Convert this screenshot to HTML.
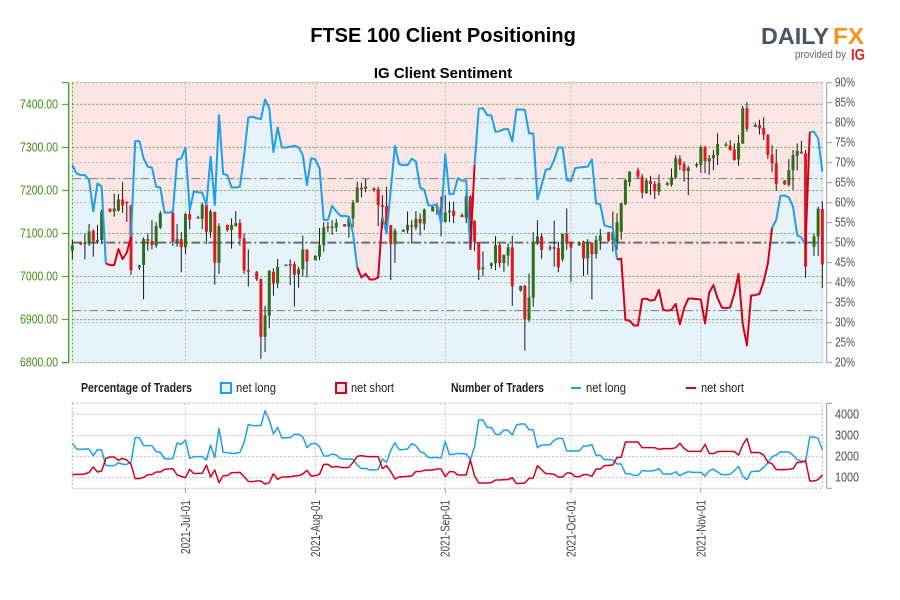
<!DOCTYPE html>
<html lang="en">
<head>
<meta charset="utf-8">
<title>FTSE 100 Client Positioning</title>
<style>
html,body{margin:0;padding:0;background:#fff;}
svg{display:block;font-family:"Liberation Sans",sans-serif;}
</style>
</head>
<body>
<svg id="chart" xmlns="http://www.w3.org/2000/svg" width="900" height="600" viewBox="0 0 900 600">
  <rect width="900" height="600" fill="#ffffff"/>
  <text x="443" y="42" text-anchor="middle" font-size="20" font-weight="700" fill="#000">FTSE 100 Client Positioning</text>
  <text x="443" y="78" text-anchor="middle" font-size="15" font-weight="700" fill="#000">IG Client Sentiment</text>
  <g>
    <text x="761" y="44" font-size="23" font-weight="700" fill="#4b5563" textLength="68" lengthAdjust="spacingAndGlyphs">DAILY</text>
    <text x="833" y="44" font-size="23" font-weight="700" fill="#f7941d" textLength="31" lengthAdjust="spacingAndGlyphs">FX</text>
    <text x="795" y="58" font-size="11" fill="#666" textLength="51" lengthAdjust="spacingAndGlyphs">provided by</text>
    <text x="851" y="60" font-size="16" font-weight="700" fill="#e2231a" textLength="14" lengthAdjust="spacingAndGlyphs">IG</text>
  </g>
  <g id="main-panel"></g>
  <g id="lower-panel"></g>
  <g font-size="13" fill="#222">
    <text x="81" y="392" font-weight="700" textLength="111" lengthAdjust="spacingAndGlyphs">Percentage of Traders</text>
    <rect x="221" y="383" width="10" height="10" fill="#e6f3fb" stroke="#1e9fe8" stroke-width="2"/>
    <text x="236" y="392" textLength="40" lengthAdjust="spacingAndGlyphs">net long</text>
    <rect x="336" y="383" width="10" height="10" fill="#fbe5e5" stroke="#d0021b" stroke-width="2"/>
    <text x="351" y="392" textLength="43" lengthAdjust="spacingAndGlyphs">net short</text>
    <text x="451" y="392" font-weight="700" textLength="93" lengthAdjust="spacingAndGlyphs">Number of Traders</text>
    <line x1="571" y1="388" x2="581" y2="388" stroke="#1e9fe8" stroke-width="2"/>
    <text x="586" y="392" textLength="40" lengthAdjust="spacingAndGlyphs">net long</text>
    <line x1="686" y1="388" x2="696" y2="388" stroke="#d0021b" stroke-width="2"/>
    <text x="701" y="392" textLength="43" lengthAdjust="spacingAndGlyphs">net short</text>
  </g>
</svg>
<script>
const monthDays = [27, 58, 89, 119, 150];
const monthLabels = ['2021-Jul-01', '2021-Aug-01', '2021-Sep-01', '2021-Oct-01', '2021-Nov-01'];
const priceTicks = [6800, 6900, 7000, 7100, 7200, 7300, 7400];
const percentTicks = [20, 25, 30, 35, 40, 45, 50, 55, 60, 65, 70, 75, 80, 85, 90];
const percentGrid = [30, 40, 60, 70, 80];
const countTicks = [1000, 2000, 3000, 4000];
const referenceLevels = [66, 50, 33];

const sentimentPercent = [
69.4,67.3,66.9,66.9,65.7,57.8,64.8,64.0,44.8,44.4,
44.4,48.4,45.9,47.5,51.5,75.4,75.4,71.1,69.0,68.8,
64.0,63.8,57.5,57.5,57.8,70.7,71.1,73.8,58.2,62.8,
62.6,62.5,59.4,71.5,59.4,81.9,67.2,66.9,63.8,63.8,
64.0,71.9,81.3,81.5,81.1,80.9,85.8,83.6,72.6,78.8,
73.8,73.8,74.0,74.2,73.8,71.9,64.4,71.1,70.8,68.6,
55.7,55.7,59.2,57.8,56.7,56.7,56.5,52.3,43.8,41.3,
42.2,40.8,40.8,41.3,56.5,52.3,63.2,74.2,69.6,69.4,
69.4,71.0,70.3,63.8,63.2,59.3,59.3,59.6,54.8,72.1,
62.1,62.2,66.1,65.5,65.5,48.2,69.4,83.5,83.6,81.9,
81.8,77.7,77.9,78.4,78.4,75.3,83.3,83.3,83.2,77.3,
77.3,60.8,64.4,68.3,68.4,70.7,73.8,73.8,65.7,65.4,
68.6,68.8,68.9,69.0,70.8,59.8,59.6,54.3,54.0,53.8,
45.8,46.0,30.7,30.5,29.3,29.3,35.9,36.0,35.5,35.7,
38.2,33.2,33.0,33.2,34.7,29.6,33.6,36.0,36.0,35.9,
35.8,29.8,37.5,39.4,36.1,33.8,33.6,33.8,37.3,42.2,
29.7,24.3,36.8,36.9,37.2,40.3,44.8,53.7,55.7,61.7,
61.8,61.3,59.0,51.9,51.3,49.4,77.7,77.7,76.1,67.8
];

const longCount = [
2627,2359,2343,2359,2359,2043,2327,2311,1569,1569,
1569,1711,1632,1632,1727,2896,2896,2517,2517,2517,
2232,2201,1901,1885,1916,2643,2580,2785,1916,1995,
1995,1995,1837,2548,1948,3338,2201,2185,2153,2153,
2201,2675,3528,3465,3465,3465,4176,3733,3070,3386,
2880,2896,2896,3054,3054,2943,2422,2612,2627,2469,
2027,2027,2122,2074,1901,1885,1885,1869,1600,1427,
1442,1363,1363,1395,1885,1727,2296,2659,2327,2327,
2359,2612,2517,2232,2153,1948,1948,1964,1932,2706,
2090,2106,2153,2138,2122,1853,2469,3733,3733,3370,
3386,3054,3054,3259,3244,3022,3496,3544,3544,3275,
3259,2422,2548,2548,2564,2770,2864,2864,2264,2264,
2264,2264,2501,2501,2564,2059,2059,1853,1853,1837,
1648,1648,1190,1190,1111,1111,1332,1316,1316,1348,
1427,1174,1174,1174,1284,1095,1205,1284,1253,1253,
1253,1079,1332,1411,1269,1142,1142,1158,1332,1537,
1079,905,1284,1300,1316,1490,1695,1995,2074,2217,
2217,2217,2074,1853,1790,1758,2928,2928,2864,2311
];

const shortCount = [
1142,1158,1158,1174,1253,1506,1269,1316,1916,1980,
1980,1822,1916,1837,1632,953,953,1016,1142,1142,
1269,1269,1395,1411,1427,1126,1063,1000,1395,1190,
1205,1205,1600,1032,1363,763,1095,1095,1237,1237,
1253,1047,826,810,842,842,700,763,1190,921,
1032,1032,1047,1079,1095,1174,1348,1079,1095,1158,
1632,1632,1490,1537,1490,1474,1490,1727,2011,2043,
2011,1995,1995,1995,1427,1569,1284,937,1032,1047,
1063,1079,1300,1284,1348,1363,1363,1411,1411,1047,
1284,1284,1126,1126,1126,1837,1079,747,747,747,
763,889,889,905,905,1000,716,731,747,968,
984,1569,1379,1190,1190,1158,1032,1032,1221,1221,
1047,1047,1142,1142,1063,1411,1411,1569,1585,1600,
1964,1964,2691,2691,2691,2691,2422,2422,2422,2422,
2343,2375,2375,2375,2422,2627,2390,2248,2248,2248,
2248,2580,2153,2138,2232,2248,2248,2248,2232,2074,
2548,2864,2185,2201,2185,2074,1727,1664,1379,1379,
1379,1395,1427,1727,1727,1806,842,842,905,1126
];

const candleDay = [
0,2,3,4,5,6,7,9,10,11,
12,13,14,16,17,18,19,20,21,24,
25,26,27,28,30,31,32,33,34,35,
37,38,39,40,41,42,44,45,46,47,
48,49,51,52,53,54,55,56,58,59,
60,61,62,63,65,66,67,68,69,70,
72,73,74,75,76,77,79,80,81,82,
83,84,86,87,88,89,90,91,93,94,
95,96,97,98,100,101,102,103,104,105,
107,108,109,110,111,112,114,115,116,117,
118,119,121,122,123,124,125,126,128,129,
130,131,132,133,135,136,137,138,139,140,
142,143,144,145,146,147,149,150,151,152,
153,154,156,157,158,159,160,161,163,164,
165,166,167,168,170,171,172,173,174,175,
177,178,179
];
const candleOpen = [
7060,7079,7077,7076,7106,7083,7085,7158,7151,7153,
7179,7174,7165,7021,7027,7087,7083,7072,7114,7148,
7081,7087,7068,7145,7135,7134,7166,7103,7150,7032,
7120,7108,7117,7124,7089,7015,7011,6994,6860,6909,
7011,6984,7025,7029,7029,7005,7017,7063,7038,7046,
7073,7116,7114,7114,7122,7116,7135,7172,7206,7204,
7205,7203,7166,7164,7119,7075,7104,7107,7119,7114,
7134,7123,7151,7164,7162,7127,7149,7153,7143,7137,
7186,7129,7080,7017,7025,7031,7073,7031,7049,7068,
6967,6979,6899,6951,7077,7093,7068,7068,7066,7040,
7099,7079,7072,7081,7042,7079,7052,7083,7103,7085,
7081,7104,7168,7219,7247,7232,7194,7222,7215,7197,
7213,7213,7230,7274,7261,7245,7258,7259,7302,7267,
7275,7282,7304,7304,7295,7272,7309,7391,7348,7352,
7345,7330,7283,7263,7223,7213,7247,7280,7290,7286,
7069,7093,7157
];
const candleHigh = [
7085,7081,7100,7122,7110,7120,7156,7158,7192,7192,
7219,7174,7166,7027,7091,7100,7131,7126,7152,7151,
7122,7103,7148,7153,7141,7172,7172,7156,7151,7124,
7121,7135,7152,7133,7100,7063,7013,6996,6932,7015,
7019,7041,7028,7040,7035,7023,7095,7063,7050,7113,
7126,7127,7131,7134,7122,7135,7178,7220,7218,7227,
7207,7209,7189,7209,7120,7112,7110,7151,7131,7152,
7147,7158,7164,7166,7186,7189,7174,7174,7147,7197,
7189,7131,7081,7058,7033,7094,7077,7052,7077,7095,
6979,6980,7007,7103,7131,7100,7073,7130,7081,7100,
7158,7081,7081,7083,7087,7079,7095,7111,7104,7151,
7147,7172,7226,7245,7253,7238,7228,7234,7222,7237,
7220,7251,7282,7282,7267,7257,7265,7305,7303,7282,
7294,7333,7312,7317,7309,7329,7396,7405,7357,7364,
7370,7330,7305,7296,7224,7273,7294,7309,7315,7294,
7100,7162,7175
];
const candleLow = [
7040,7073,7040,7071,7046,7077,7076,7149,7139,7151,
7148,7127,7004,7015,6947,7060,7063,7067,7110,7071,
7069,7010,7052,7110,7135,7110,7076,7090,6981,7006,
7104,7065,7116,7072,7006,6977,6990,6809,6825,6880,
6956,6973,7024,6980,6930,6974,7000,6998,7037,7038,
7058,7103,7097,7104,7116,7090,7114,7172,7184,7196,
7197,7117,7112,7100,6992,7032,7104,7100,7077,7108,
7095,7108,7151,7143,7093,7125,7127,7124,7138,7124,
7081,7059,6992,7001,7017,7015,7021,7011,7025,6932,
6965,6828,6895,6930,7073,7041,7060,7023,7010,7035,
7062,6988,7072,7001,7004,6947,7042,7062,7081,7058,
7062,7086,7166,7209,7227,7182,7192,7189,7180,7189,
7211,7209,7228,7247,7220,7189,7253,7240,7240,7236,
7247,7259,7302,7292,7269,7257,7308,7336,7347,7330,
7317,7273,7242,7199,7213,7209,7201,7247,7285,6997,
7048,7048,6973
];
const candleClose = [
7073,7075,7079,7105,7083,7085,7151,7151,7158,7179,
7165,7172,7014,7026,7087,7083,7073,7117,7147,7081,
7087,7068,7145,7132,7138,7167,7104,7151,7032,7117,
7108,7120,7124,7089,7014,7011,6994,6860,6910,7013,
6984,7023,7028,7027,7004,7017,7063,7035,7048,7073,
7114,7114,7116,7125,7116,7135,7172,7207,7203,7209,
7201,7166,7162,7120,7075,7107,7108,7120,7116,7134,
7124,7156,7162,7162,7127,7149,7153,7141,7138,7186,
7127,7081,7015,7021,7031,7073,7031,7050,7068,6977,
6978,6901,6951,7081,7093,7062,7065,7065,7021,7099,
7079,7067,7079,7042,7079,7052,7085,7095,7083,7104,
7126,7170,7224,7243,7232,7195,7223,7215,7198,7217,
7217,7230,7275,7259,7245,7253,7261,7301,7268,7275,
7282,7308,7307,7294,7271,7310,7391,7343,7352,7344,
7329,7283,7263,7215,7214,7247,7282,7292,7286,7023,
7093,7158,7028
];

const NS = 'http://www.w3.org/2000/svg';
const BLUE = '#1e9fe8', RED = '#d0021b', AXIS_GREEN = '#3c9a0c', LABEL_GREEN = '#3d8c12';
const LEFT = 72.33, RIGHT = 822.33, TOP = 82.67, BOTTOM = 362.67, LOW_TOP = 403.3, LOW_BOTTOM = 488.3;
const xAt = d => LEFT + d * 4.19;
const priceY = p => BOTTOM - (p - 6800) * 0.43056;
const pctY = p => BOTTOM - (p - 20) * 4;
const countY = v => 477.67 - (v - 1000) * 0.0211;
const mainPanel = document.getElementById('main-panel');
const lowerPanel = document.getElementById('lower-panel');

function make(parent, tag, attrs, text) {
  const el = document.createElementNS(NS, tag);
  for (const k in attrs) el.setAttribute(k, attrs[k]);
  if (text !== undefined) el.textContent = text;
  parent.appendChild(el);
  return el;
}

let el;

el = make(mainPanel, 'rect', {x: LEFT, y: TOP, width: RIGHT - LEFT, height: BOTTOM - TOP, fill: '#fbe5e5'});



const areaPoints = sentimentPercent.map((p, i) => xAt(i).toFixed(2) + ',' + pctY(p).toFixed(2));
areaPoints.push(xAt(sentimentPercent.length - 1).toFixed(2) + ',' + BOTTOM, LEFT + ',' + BOTTOM);
el = make(mainPanel, 'polygon', {points: areaPoints.join(' '), fill: '#e6f3fb'});



percentGrid.forEach(p => {
  el = make(mainPanel, 'line', {x1: LEFT, x2: RIGHT, y1: pctY(p), y2: pctY(p), stroke: '#bdb5b5', 'stroke-width': 1, 'stroke-dasharray': '2,2'});
  
  
});
priceTicks.forEach(p => {
  el = make(mainPanel, 'line', {x1: LEFT, x2: RIGHT, y1: priceY(p), y2: priceY(p), stroke: '#6fa84a', 'stroke-width': 1, 'stroke-dasharray': '2,2'});
  
  
});
el = make(mainPanel, 'line', {x1: LEFT, x2: RIGHT, y1: TOP, y2: TOP, stroke: '#6fa84a', 'stroke-width': 1, 'stroke-dasharray': '2,2'});


el = make(mainPanel, 'line', {x1: LEFT, x2: LEFT, y1: TOP, y2: BOTTOM, stroke: '#3c9a0c', 'stroke-width': 1, 'stroke-dasharray': '2,2'});


el = make(mainPanel, 'line', {x1: RIGHT, x2: RIGHT, y1: TOP, y2: BOTTOM, stroke: '#b5b5b5', 'stroke-width': 1, 'stroke-dasharray': '2,2'});



monthDays.forEach(d => {
  el = make(mainPanel, 'line', {x1: xAt(d), x2: xAt(d), y1: TOP, y2: BOTTOM, stroke: '#c0bcbc', 'stroke-width': 1, 'stroke-dasharray': '2,2'});
  
  
});

referenceLevels.forEach(p => {
  el = make(mainPanel, 'line', {x1: LEFT, x2: RIGHT, y1: pctY(p), y2: pctY(p), stroke: p === 50 ? '#6e6e6e' : '#7c7c7c', 'stroke-width': p === 50 ? 2 : 1, 'stroke-dasharray': '9,3,2,3'});
  
  
});

candleDay.forEach((d, i) => {
  const x = xAt(d);
  const up = candleClose[i] >= candleOpen[i];
  el = make(mainPanel, 'line', {x1: x, x2: x, y1: priceY(candleHigh[i]), y2: priceY(candleLow[i]), stroke: '#1a1a1a', 'stroke-width': 1});
  
  
  const top = priceY(Math.max(candleOpen[i], candleClose[i]));
  const bottom = priceY(Math.min(candleOpen[i], candleClose[i]));
  el = make(mainPanel, 'rect', {x: x - 1.5, y: top, width: 3, height: Math.max(bottom - top, 1.5), fill: up ? '#2f6f17' : '#e0191f'});
  
  
});

function drawColoredLine(parent, xs, ys, isShort, width) {
  let start = 0;
  for (let i = 1; i <= ys.length - 1; i++) {
    if (i === ys.length - 1 || isShort(i) !== isShort(start)) {
      const pts = [];
      for (let j = start; j <= i; j++) pts.push(xs(j).toFixed(2) + ',' + ys[j].toFixed(2));
      const seg = make(parent, 'polyline', {points: pts.join(' '), fill: 'none', stroke: isShort(start) ? RED : BLUE, 'stroke-width': width, 'stroke-linejoin': 'round'});
      
      
      start = i;
    }
  }
}
drawColoredLine(mainPanel, xAt, sentimentPercent.map(pctY), i => sentimentPercent[i] < 50, 2);

el = make(mainPanel, 'line', {x1: 68.7, x2: 68.7, y1: TOP, y2: BOTTOM, stroke: AXIS_GREEN, 'stroke-width': 1.3});


[TOP, BOTTOM].forEach(y => {
  el = make(mainPanel, 'line', {x1: 62, x2: 68.7, y1: y, y2: y, stroke: AXIS_GREEN, 'stroke-width': 1});
  
  
});
priceTicks.forEach(p => {
  el = make(mainPanel, 'line', {x1: 62, x2: 68.7, y1: priceY(p), y2: priceY(p), stroke: AXIS_GREEN, 'stroke-width': 1});
  
  
  el = make(mainPanel, 'text', {x: 20, y: priceY(p) + 4, 'font-size': 13, fill: LABEL_GREEN, textLength: 38, lengthAdjust: 'spacingAndGlyphs'}, p.toFixed(2));
  
  
});

el = make(mainPanel, 'line', {x1: 826.7, x2: 826.7, y1: TOP, y2: BOTTOM, stroke: '#9a9a9a', 'stroke-width': 1});


percentTicks.forEach(p => {
  el = make(mainPanel, 'line', {x1: 826.7, x2: 832, y1: pctY(p), y2: pctY(p), stroke: '#9a9a9a', 'stroke-width': 1});
  
  
  el = make(mainPanel, 'text', {x: 835, y: pctY(p) + 4, 'font-size': 13, fill: '#4a4a4a', textLength: 20, lengthAdjust: 'spacingAndGlyphs'}, p + '%');
  
  
});

countTicks.forEach(v => {
  el = make(lowerPanel, 'line', {x1: LEFT, x2: RIGHT, y1: countY(v), y2: countY(v), stroke: '#bdbdbd', 'stroke-width': 1, 'stroke-dasharray': '2,2'});
  
  
});
el = make(lowerPanel, 'rect', {x: LEFT, y: LOW_TOP, width: RIGHT - LEFT, height: LOW_BOTTOM - LOW_TOP, fill: 'none', stroke: '#b0b0b0', 'stroke-width': 1, 'stroke-dasharray': '2,2'});



monthDays.forEach((d, i) => {
  el = make(lowerPanel, 'line', {x1: xAt(d), x2: xAt(d), y1: LOW_TOP, y2: LOW_BOTTOM, stroke: '#c4c4c4', 'stroke-width': 1, 'stroke-dasharray': '2,2'});
  
  
  el = make(lowerPanel, 'line', {x1: xAt(d), x2: xAt(d), y1: LOW_BOTTOM, y2: LOW_BOTTOM + 5, stroke: '#9a9a9a', 'stroke-width': 1});
  
  
  const lx = xAt(d) + 4.5;
  el = make(lowerPanel, 'text', {x: lx, y: 500, 'font-size': 13, fill: '#444', 'text-anchor': 'end', textLength: i === 0 ? 54 : 57, lengthAdjust: 'spacingAndGlyphs', transform: 'rotate(-90 ' + lx + ' 500)'}, monthLabels[i]);
  
  
});

const longPoints = longCount.map((v, i) => xAt(i).toFixed(2) + ',' + countY(v).toFixed(2)).join(' ');
el = make(lowerPanel, 'polyline', {points: longPoints, fill: 'none', stroke: BLUE, 'stroke-width': 1.5, 'stroke-linejoin': 'round'});


const shortPoints = shortCount.map((v, i) => xAt(i).toFixed(2) + ',' + countY(v).toFixed(2)).join(' ');
el = make(lowerPanel, 'polyline', {points: shortPoints, fill: 'none', stroke: RED, 'stroke-width': 1.5, 'stroke-linejoin': 'round'});



el = make(lowerPanel, 'line', {x1: 826.7, x2: 826.7, y1: LOW_TOP, y2: LOW_BOTTOM, stroke: '#9a9a9a', 'stroke-width': 1});


[LOW_TOP, LOW_BOTTOM].forEach(y => {
  el = make(lowerPanel, 'line', {x1: 826.7, x2: 832, y1: y, y2: y, stroke: '#9a9a9a', 'stroke-width': 1});
  
  
});
countTicks.forEach(v => {
  el = make(lowerPanel, 'text', {x: 835, y: countY(v) + 4, 'font-size': 13, fill: '#4a4a4a', textLength: 24, lengthAdjust: 'spacingAndGlyphs'}, String(v));
  
  
});
</script>
</body>
</html>
